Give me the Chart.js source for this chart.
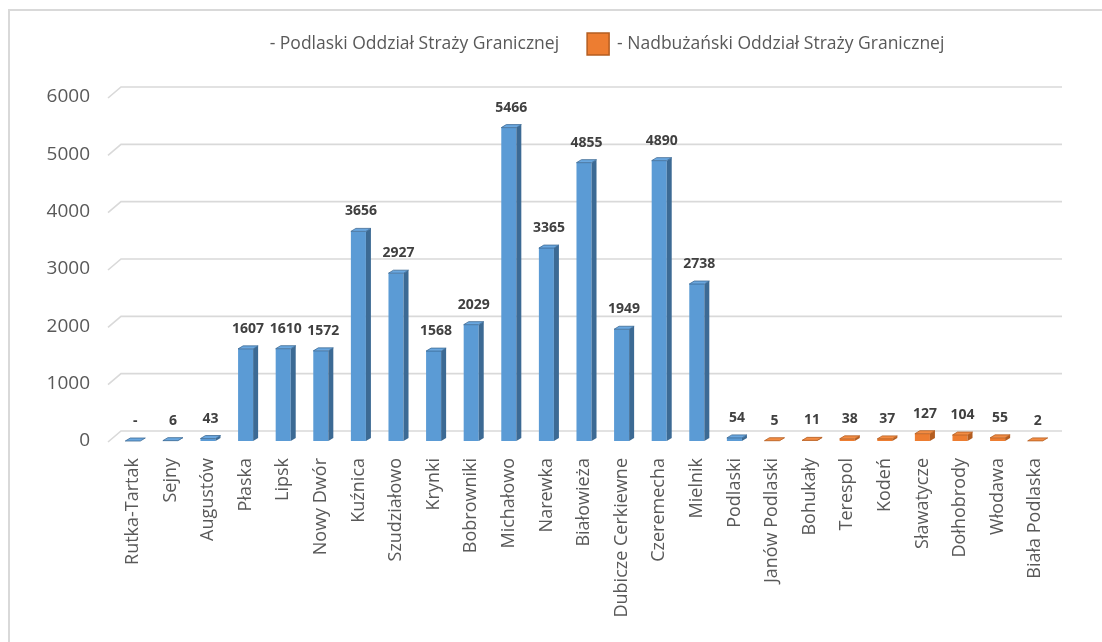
<!DOCTYPE html>
<html lang="pl">
<head>
<meta charset="UTF-8">
<title>Oddziały Straży Granicznej</title>
<script src="https://cdn.jsdelivr.net/npm/chart.js"></script>
<style>
    html, body { margin: 0; padding: 0; background: #fff; overflow: hidden; }
    #frame {
        position: absolute; left: 8px; top: 9px; width: 1200px; height: 700px;
        border-left: 2px solid #d9d9d9; border-top: 2px solid #d9d9d9;
    }
    #wrap { position: absolute; left: 10px; top: 11px; width: 1092px; height: 631px; }
</style>
</head>
<body>
<div id="frame"></div>
<div id="wrap"><canvas id="chart"></canvas></div>

<script>
    const categories = [
        'Rutka-Tartak', 'Sejny', 'Augustów', 'Płaska', 'Lipsk', 'Nowy Dwór', 'Kuźnica',
        'Szudziałowo', 'Krynki', 'Bobrowniki', 'Michałowo', 'Narewka', 'Białowieża',
        'Dubicze Cerkiewne', 'Czeremecha', 'Mielnik', 'Podlaski', 'Janów Podlaski',
        'Bohukały', 'Terespol', 'Kodeń', 'Sławatycze', 'Dołhobrody', 'Włodawa', 'Biała Podlaska'
    ];
    const podlaskiValues = [0, 6, 43, 1607, 1610, 1572, 3656, 2927, 1568, 2029, 5466, 3365, 4855, 1949, 4890, 2738, 54];
    const nadbuzanskiValues = [5, 11, 38, 37, 127, 104, 55, 2];
    const seriesNames = ['- Podlaski Oddział Straży Granicznej', '- Nadbużański Oddział Straży Granicznej'];
    const yMax = 6000;
    const yStep = 1000;

    const FONT = '"Open Sans", sans-serif';
    const DEPTH_X = 5, DEPTH_Y = 3;      // bar depth
    const WALL_X = 13, WALL_Y = 11;      // back wall offset for grid lines

    const pad = (n) => Array(n).fill(null);

    // grid lines on the back wall with the slanted side-wall piece
    const wallGrid = {
        id: 'wallGrid',
        beforeDatasetsDraw(chart) {
            const { ctx, chartArea } = chart;
            const y = chart.scales.y;
            ctx.save();
            ctx.strokeStyle = '#d9d9d9';
            ctx.lineWidth = 1.6;
            y.ticks.forEach(t => {
                const py = y.getPixelForValue(t.value);
                ctx.beginPath();
                ctx.moveTo(chartArea.left - 6, py + 1);
                ctx.lineTo(chartArea.left - 6 + WALL_X, py + 1 - WALL_Y);
                ctx.lineTo(chartArea.right + 8, py + 1 - WALL_Y);
                ctx.stroke();
            });
            ctx.restore();
        }
    };

    // side + top faces of every bar, and the value above it
    const bars3d = {
        id: 'bars3d',
        afterDatasetsDraw(chart) {
            const { ctx } = chart;
            ctx.save();
            chart.data.datasets.forEach((ds, di) => {
                const meta = chart.getDatasetMeta(di);
                meta.data.forEach((bar, i) => {
                    const v = ds.data[i];
                    if (v === null) return;
                    const { x, y, base, width } = bar.getProps(['x', 'y', 'base', 'width'], true);
                    const l = x - width / 2, r = x + width / 2;
                    ctx.fillStyle = ds.sideColor;
                    ctx.beginPath();
                    ctx.moveTo(r, y);
                    ctx.lineTo(r + DEPTH_X, y - DEPTH_Y);
                    ctx.lineTo(r + DEPTH_X, base - DEPTH_Y);
                    ctx.lineTo(r, base);
                    ctx.closePath();
                    ctx.fill();
                    ctx.fillStyle = ds.topColor;
                    ctx.strokeStyle = ds.sideColor;
                    ctx.lineWidth = 0.8;
                    ctx.beginPath();
                    ctx.moveTo(l, y);
                    ctx.lineTo(l + DEPTH_X, y - DEPTH_Y);
                    ctx.lineTo(r + DEPTH_X, y - DEPTH_Y);
                    ctx.lineTo(r, y);
                    ctx.closePath();
                    ctx.fill();
                    ctx.stroke();

                    ctx.fillStyle = '#404040';
                    ctx.font = 'bold 14px ' + FONT;
                    ctx.textAlign = 'center';
                    ctx.textBaseline = 'middle';
                    ctx.fillText(v === 0 ? '-' : String(v), x + DEPTH_X / 2, y - DEPTH_Y - 17);
                });
            });
            ctx.restore();
        }
    };

    // legend above the plot; the first series is shown without a swatch
    const topLegend = {
        id: 'topLegend',
        afterDraw(chart) {
            const { ctx, chartArea } = chart;
            const ds = chart.data.datasets;
            ctx.save();
            ctx.font = '17.5px ' + FONT;
            ctx.textBaseline = 'middle';
            ctx.textAlign = 'left';
            const box = 22, gap = 8, between = 28;
            const w1 = ctx.measureText(ds[0].label).width;
            const w2 = ctx.measureText(ds[1].label).width;
            const total = w1 + between + box + gap + w2;
            const cy = 33;
            let x = (chartArea.left + chartArea.right) / 2 + 23 - total / 2;
            ctx.fillStyle = '#595959';
            ctx.fillText(ds[0].label, x, cy);
            x += w1 + between;
            ctx.fillStyle = ds[1].backgroundColor;
            ctx.strokeStyle = ds[1].sideColor;
            ctx.lineWidth = 1.5;
            ctx.fillRect(x, cy - box / 2, box, box);
            ctx.strokeRect(x, cy - box / 2, box, box);
            x += box + gap;
            ctx.fillStyle = '#595959';
            ctx.fillText(ds[1].label, x, cy);
            ctx.restore();
        }
    };

    new Chart(document.getElementById('chart'), {
        type: 'bar',
        data: {
            labels: categories,
            datasets: [{
                label: seriesNames[0],
                data: podlaskiValues.concat(pad(nadbuzanskiValues.length)),
                backgroundColor: '#5b9bd5',
                sideColor: '#3c6a94',
                topColor: '#6aa7df'
            }, {
                label: seriesNames[1],
                data: pad(podlaskiValues.length).concat(nadbuzanskiValues),
                backgroundColor: '#ed7d31',
                sideColor: '#b45d20',
                topColor: '#f28c44'
            }]
        },
        options: {
            responsive: true,
            maintainAspectRatio: false,
            animation: false,
            layout: { padding: { top: 86, right: 48, left: 0, bottom: 0 } },
            datasets: { bar: { barPercentage: 0.4, categoryPercentage: 1 } },
            plugins: { legend: { display: false }, tooltip: { enabled: false } },
            scales: {
                x: {
                    stacked: true,
                    grid: { display: false, drawTicks: false },
                    border: { display: false },
                    ticks: {
                        autoSkip: false, minRotation: 90, maxRotation: 90,
                        padding: 17, color: '#595959', font: { family: FONT, size: 18 }
                    },
                    afterFit(s) { s.height = 201; }
                },
                y: {
                    stacked: true,
                    min: 0, max: yMax,
                    grid: { display: false, drawTicks: false },
                    border: { display: false },
                    ticks: {
                        stepSize: yStep, padding: 24, color: '#595959',
                        font: { family: FONT, size: 19 },
                        callback: (v) => String(v)
                    },
                    afterFit(s) { s.width = 104; }
                }
            }
        },
        plugins: [wallGrid, bars3d, topLegend]
    });
</script>
</body>
</html>
